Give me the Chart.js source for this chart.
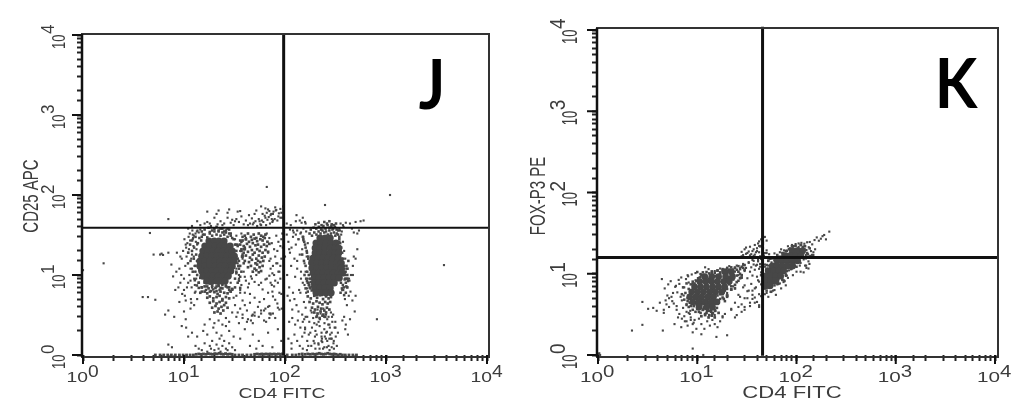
<!DOCTYPE html>
<html>
<head>
<meta charset="utf-8">
<style>
    html, body { margin: 0; padding: 0; background: #fff; width: 1024px; height: 412px; overflow: hidden; }
    canvas { position: absolute; top: 0; filter: blur(0.5px); }
    #panelJ { left: 0; }
    #panelK { left: 512px; }
</style>
</head>
<body>
<canvas id="panelJ" width="512" height="412"></canvas>
<canvas id="panelK" width="512" height="412"></canvas>
<script src="https://cdn.jsdelivr.net/npm/chart.js@4"></script>
<script>
const decades = [1, 10, 100, 1000, 10000];
const exponents = ['0', '1', '2', '3', '4'];

// quadrant gates
const gateJ = { x: 97, y: 39 };
const gateK = { x: 45.5, y: 15.8 };

// --- panel J, solid clumps
const coreAJx = [17.7,19.9,22.2,24.9, 16.1,18.1,20.3,22.8,25.5,28.6, 15.4,17.3,19.4,21.8,24.4,27.4,30, 15,16.8,18.9,21.2,23.8,26.7,29.9,31.5, 14.4,16.1,18.1,20.3,22.8,25.5,28.6,31.3, 14.4,16.1,18.1,20.3,22.8,25.5,28.6,30, 15,16.8,18.9,21.2,23.8,26.7,29, 15.4,17.3,19.4,21.8,24.4,27.4, 16.8,18.9,21.2,23.8,25.5];
const coreAJy = [26.6,26.6,26.6,26.6, 23,23,23,23,23,23, 19.9,19.9,19.9,19.9,19.9,19.9,19.9, 17.2,17.2,17.2,17.2,17.2,17.2,17.2,17.2, 14.9,14.9,14.9,14.9,14.9,14.9,14.9,14.9, 12.9,12.9,12.9,12.9,12.9,12.9,12.9,12.9, 11.2,11.2,11.2,11.2,11.2,11.2,11.2, 9.7,9.7,9.7,9.7,9.7,9.7, 8.4,8.4,8.4,8.4,8.4];
const coreCJx = [222,249,280, 203,228,255,286,320, 199,223,249,280,313,340, 199,223,249,280,313,340, 190,213,238,267,300,336, 185,207,232,260,292,327,360, 185,207,232,260,292,327,360, 190,213,238,267,300,336,370, 195,218,244,274,307,344, 195,218,244,274,307, 199,223,249,280, 203,228,255,286];
const coreCJy = [29,29,29, 25.1,25.1,25.1,25.1,25.1, 21.7,21.7,21.7,21.7,21.7,21.7, 18.8,18.8,18.8,18.8,18.8,18.8, 16.3,16.3,16.3,16.3,16.3,16.3, 14.1,14.1,14.1,14.1,14.1,14.1,14.1, 12.2,12.2,12.2,12.2,12.2,12.2,12.2, 10.6,10.6,10.6,10.6,10.6,10.6,10.6, 9.2,9.2,9.2,9.2,9.2,9.2, 7.96,7.96,7.96,7.96,7.96, 6.9,6.9,6.9,6.9, 6,6,6,6];

// --- panel J, speckled patches
const patchBJx = [40,43,46,49,52,55,58,61,64,38,41,44,47,50,53,57,60,63,67,36,39,42,45,48,51,54,58,62,66,70,37,40,43,47,50,53,56,60,64,68,38,41,45,48,52,55,59,63,40,44,47,51,54,57,61,43,46,50,53,56,60,48,52,55,58];
const patchBJy = [31,33,30,32,29,33,31,30,32,27,28,26,27.5,28.5,26.5,28,27,29,26,24,23,24.5,22.5,25,23.5,24,22.5,24,23,24.5,20,21,19.5,20.5,19,21,20,19,20.5,19.5,17,17.5,16.5,18,16,17.5,16.5,17,15,14.5,15.5,14,15,14.5,15,12.5,13,12,13.5,12.5,13,11,11.5,10.8,11.2];
const tailJx = [15,16,17.5,19,20.5,22,24,26,28,30,14.5,16,17,18.5,20,21.5,23,25,27,29,17,18,19.5,21,22.5,24,26,28,18,19.5,21,22.5,24,26,19,20.5,22,23.5,25,27,20,21.5,23,24.5];
const tailJy = [7,7.2,6.8,7.4,6.9,7.3,6.8,7.2,7,6.7,6,6.2,5.9,6.3,6.1,5.8,6.2,6,5.9,6.2,5.2,5.4,5.1,5.3,5.5,5,5.3,5.1,4.5,4.7,4.4,4.6,4.8,4.5,3.9,4.1,3.8,4,4.2,3.9,3.4,3.5,3.3,3.6];
const tailCJx = [168,180,195,208,222,238,255,270,285,175,190,205,220,235,250,265,280,185,198,212,228,245,260,275,195,210,225,240,255,205,220,235,250];
const tailCJy = [5.4,5.1,5.5,5.2,5.6,5,5.4,5.1,5.3,4.6,4.4,4.7,4.5,4.3,4.6,4.4,4.6,3.9,3.7,4,3.8,3.6,3.9,3.7,3.4,3.3,3.5,3.2,3.4,3,2.9,3.1,3];
const fringeAJx = [11.5,12,12.5,13,13.5,14,14.5,12,12.6,13.2,13.8,14.2,11,11.6,12.2,12.8,13.4,14,13,13.6,14.2,14.8,15.4, 15,16,17,18,19,20,21,22,23,24,25,26,27,28,29,30,31,16,17.5,19,21,23,25,27,29,15,18,20,22,24,26,28, 32,33,34,35,36,37,38,39,40,33,34.5,36,37.5,39,33,35,37,39,41,32,34,36,38,31,33,35,37,30,32,34,36,14,15,16,17,18,19,20,21,22,23,24,25,26,27,28,29,30, 15,16.5,18,19.5,21,22.5,24,26,28];
const fringeAJy = [24,20,16,13,10,8,9.2,27,22,18,14.5,11.5,19,15,11,8.6,7.4,6.9,30,25,29,27,32, 30,32,29.5,33,31,35,32,36,31,34,32,36,30,33,31,29,28, 37,39,36,40,38,35,38,33,35,34.5,37.5,35,38,34,37, 24,20,16,12,9.5,26,18,14,22, 10.5,13,27,17,21,24,15,11,19,28,9,23,13,30,17,11,8.5,21,13,7,8,6.9,8,7,8,7.2,7.8,7,8.1,7.2,7.7,6.9,7.5,8.2,7.4,7, 6.5,6.3,6.6,6.2,6.5,6.2,6.6,6.3,6.5];
const fringeCJx = [150,155,160,165,170,175,180,152,158,164,170,176,182,148,154,160,166,172,178,156,162,168,174,180,186,165,172,179,186,160,168,176,184, 175,185,195,205,215,225,235,245,255,265,275,285,295,305,315,325,335,345,180,192,204,216,228,240,252,264,276,288,300,312,324,336,200,215,230,245,260,275,290,305,320, 345,352,360,368,376,384,392,400,408,416,424,350,358,366,374,382,390,398,406,414,345,355,365,375,385,395,405,420,355,370,385,400,415];
const fringeCJy = [30,26,22,19,16,14,12,28,24,20,17,15,13,18,15,13,11,10,9,10,9,8,7.5,8.2,9,8.4,7.5,6.8,7.2,6.8,6.2,7,6.4, 33,31,34,32,35,33,36,34,35,32,36,33,37,34,31,33,32,30,37,39,38,40,37,41,38,42,39,41,38,40,37,36,43,45,42,46,44,47,43,42,44, 28,25,22,19,16,13,10,8,9,12,15,9,8,6.8,7.5,7,8.8,11,13,10,26,20,16,14,12,9,7.2,8.4,6,6.5,5.6,6,7,5.5];

// --- panel J, scattered events
const bottomJx = [5.2,5.8,6.3,6.9,7.5,8.2,9,9.8,10.6,11.5,12.4,13.2,14,14.8,15.6,16.5,17.4,18.3,19.2,20.2,21.2,22.3,23.4,24.6,25.8,27,28.5,30,32,35,38,42,46,50,53,56,59,62,65,68,71,74,78,82,86,90,94,105,118,128,138,148,158,168,178,188,198,208,218,228,240,252,265,278,292,306,320,335,352,370,395,430,470,510];
const bottomJy = [1,1,1,1,1,1,1,1,1,1,1,1.02,1.03,1.02,1.03,1.02,1.04,1.03,1.02,1.04,1.03,1.05,1.03,1.02,1.04,1.02,1.03,1.02,1,1,1,1,1,1.02,1.03,1.02,1.03,1.02,1.03,1.02,1.03,1.02,1.03,1.02,1.03,1.02,1.03,1,1,1,1.02,1.03,1.02,1.03,1.02,1.03,1.02,1.03,1.05,1.03,1.02,1.03,1.05,1.03,1.02,1.03,1.02,1,1.02,1,1,1,1,1];
const lowJx = [7,7.6,13,14,15,16,17,18,18.5,19,20,21,22,22.5,23,24,25,26,27,28,30,32,12,13.5,15.5,17,19.5,21,23.5,26,28,31,36,40,45,48,52,55,60,68,75,85,92,20,22,24,26,28,16,18,11,10.5,9.5,35,33,38,43,30,47,58,65,72,80,88,70,64];
const lowJy = [1.35,1.25,1.3,1.2,1.15,1.4,1.1,1.3,1.2,1.5,1.15,1.35,1.2,1.6,1.1,1.3,1.5,1.2,1.15,1.4,1.25,1.15,1.9,1.7,2,1.8,2.2,1.9,1.75,2.3,2,1.7,1.6,2.1,1.3,1.8,1.2,1.5,1.3,1.9,1.25,2.1,1.5,2.5,2.7,2.4,2.9,2.6,2.4,2.8,1.7,2.2,2.3,2.5,3,3.2,2.8,3.4,3.1,3.6,2.6,3.3,2.9,3.7,4.1,3.8];
const haloLeftJx = [8.5,9,9.5,10,10.5,11,11.5,12,12.5,13,13.5,14,9.2,9.8,10.3,10.8,11.3,11.8,12.3,12.8,13.3,10,10.6,11.1,11.6,12.1,12.6,13.1,10.2,10.9,11.4,11.9,12.4,12.9,13.4,10.4,11,11.6,12.2,12.8,13.4,9.4,10.1,10.7,11.2,11.7,12.2,12.7,13.2,13.8,8.8,9.6,10.4,11,11.8,12.5,13,13.6,11,11.6,12,12.6,13,13.5,14,14.5,6.5,7,7.8,8,8.4,9,10,10.4,7.5,8.2,9.2,6.2,5.8];
const haloLeftJy = [19,12,16,9,22,14,27,18,31,11,24,34,8,20,13,25,10,16,29,7.5,21,6.5,17,30,12,36,9,26,5.5,14,33,7,23,11,35,4.8,19,8.5,28,6,15,10,28,7,21,5,32,13,9,25,7,5.8,24,38,4.5,17,6.2,36,8,3.8,12,4.2,33,5,15,37,3.2,3.6,9.6,3,11,4.6,3.5,2.8,13.5,6.5,17,17.8,18];
const haloMidJx = [32,34,36,38,33,35,37,30,31,29,34,36,39,41,43,33,35,38,40,44,47,50,32,36,40,45,50,55,60,66,72,34,38,42,48,54,62,68,75,33,37,41,46,52,58,64,70,78,85,45,50,56,62,70,76,84,92,66,70,74,78,82,86,90,94,68,72,76,80,84,88,92,72,78,84,90,70,74,80,86,92,68,75,82,90,95,88,80,72,93,85,76,70,62,55,50,46,40,36,42,48,58];
const haloMidJy = [28,24,20,16,12,9,7.5,6.5,5.2,8,14,6.5,11,8.5,7,5.5,10,4.8,9.5,7.8,9,8.2,4.2,3.8,6,4.5,5.2,7.5,6.6,9,8,3.4,2.9,3.6,3.2,4,5,4,6.2,31,33,29,9.6,10,8,8.8,9.8,7.2,8,5.8,3.4,4.6,3.6,3.3,5.4,4.4,5.8,33,29,25,21,31,26,23,33,19,16,13,17,14,11,28,12,10,20,9,15,7.5,8.5,11,16,6,10.5,14,13,22,6,4.9,3.2,3.8,3.9,3.3,2.9,2.7,3,3.1,2.7,4.2,6,2.6,2.5,3.3];
const aboveJx = [12,13.5,14.5,16,17,18.5,20,21.5,23,25,27,29,31,33,35,37,39,41,43,45,47,49,51,53,55,57,59,61,63,65,67,69,71,73,75,77,79,81,84,87,90,93,96,18,21,24,27,30,34,44,48,52,56,60,64,68,72,76,80,86,92,17,22,28,36,32,50,58,66,74,82,90,58,64,70,76];
const aboveJy = [41,47,42,44,46,41,52,43,47,44,52,45,42,50,46,54,43,48,42,44,51,45,47,41,50,43,48,46,55,42,49,53,44,58,46,62,50,64,48,59,67,52,72,44,58,42,60,49,62,56,43,64,47,58,52,66,56,48,70,54,60,62,64,66,63,47,58,42,60,50,65,52,72,68,63,58];
const haloRightJx = [104,108,112,116,120,124,128,132,136,140,144,148,152,156,160,164,168,172,105,110,115,120,126,132,138,144,150,156,162,168,106,112,118,124,130,136,142,148,154,160,166,110,118,126,134,142,150,158,166,108,116,124,132,140,148,156,112,122,132,142,152,162,104,114,128,146,160,130,140,150,158,120,128,136,144,152,110,100,116];
const haloRightJy = [32,26,19,22,30,16,24,12,28,18,9,21,27,14,11,17,25,8,10,7,13,6,9.5,15,6.5,11,8,7.5,6,9,5.5,4.8,3.7,5,4.2,3.5,6,3.2,4.6,3.9,6.8,2.6,2.9,2.4,2.7,2.2,2.6,2.2,3,1.6,1.4,1.8,1.5,1.3,1.7,1.9,37,34,36,33,38,35,44,42,47,45,44,56,48,52,46,36,32,28,34,30,21,17,1.2];
const haloColJx = [150,158,166,174,182,190,198,206,214,222,230,238,246,254,262,270,278,286,294,302,310,318,326,334,160,172,184,196,208,220,232,244,256,268,280,292,304,316,155,170,185,200,215,230,245,260,275,290,305,165,178,192,206,220,234,248,262,276,290,200,215,230,245,260,275,290,180,195,210,225,240,255,270,285,300,315];
const haloColJy = [1.2,2.1,1.5,2.6,1.3,2.9,1.7,2.4,1.4,2.8,1.9,1.2,2.5,1.6,2.8,1.3,2.2,1.6,2.6,1.4,2.2,1.7,1.3,1.9,3,1.8,3.4,1.4,3.1,2.3,1.6,3,1.9,2.4,1.8,3,1.5,2.2,2.8,1.3,2.2,1.2,2.6,1.5,2.1,1.25,2.4,1.9,1.2,1.15,1.9,1.5,1.8,1.2,1.45,1.7,1.5,1.15,1.6,2,1.35,1.7,1.25,1.95,1.6,1.25,3.6,2.5,3.7,3.3,3.8,3.2,3,3.4,3.2,2.6];
const haloFarJx = [360,375,385,395,405,420,435,450,470,480,500,520,360,378,392,410,428,445,465,490,540,430,470,410,385,440,400,370,395,420,350,365,355,375,345,380,400,460,480,440,500,520,560,600,1,1.6,66,1096,3750,813,4.6,7,249,3.9,4.4,5.2,5,6,7,500];
const haloFarJy = [32,26,20,16,12,9,8.5,10,13,17,16,21,9,6.5,5,7,5.5,6.2,4.8,3.5,36,9,10,4.2,3,2.8,2.4,2.7,2.1,1.8,36,35,44,42,38,40,45,38,34,44,46,33,47,48,11.5,14,126,100,13.3,2.8,33.5,50,75,5.3,5.3,4.9,18,18.5,19,5.5];

// --- panel K, solid clumps
const coreUpKx = [91,102,115, 78,87,98,110, 64,72,81,91,102, 57,64,72,81,91, 52,59,66,74, 49,55,62,69, 49,55,62, 49,54];
const coreUpKy = [19.2,19.2,19.2, 16.7,16.7,16.7,16.7, 14.5,14.5,14.5,14.5,14.5, 12.5,12.5,12.5,12.5,12.5, 10.9,10.9,10.9,10.9, 9.4,9.4,9.4,9.4, 8.2,8.2,8.2, 7.1,7.1];
const coreLowKx = [19,22, 11.9,14,16.4,19.3,22.6, 10.6,12.2,14,16,18.5,21, 9.4,10.8,12.4,14.3,16.4,18.9, 8.8,10.1,11.6,13.4,15.3,17.7, 8.4,9.7,11.1,12.8,14.6, 9,10.4,12,13.8,15.8, 10.4,12.4,14.2];
const coreLowKy = [10.6,10.6, 9.2,9.2,9.2,9.2,9.2, 8,8,8,8,8,8, 6.9,6.9,6.9,6.9,6.9,6.9, 6,6,6,6,6,6, 5.2,5.2,5.2,5.2,5.2, 4.5,4.5,4.5,4.5,4.5, 3.9,3.9,3.9];

// --- panel K, speckled patches
const patchKx = [8.8,9.6,10.4,11.2,12,13,14,15,16,9.2,10,11,11.8,12.8,13.8,14.8,10.4,11.4,12.4,13.2,14.2,15.2,16.4,11,12,13,14,15,17,18.5,20,22,24,21,23,25,27,26,28,30];
const patchKy = [4.7,4.4,4.8,4.3,4.7,4.4,4.8,4.4,4.6,4,3.7,4.1,3.8,4,3.6,3.9,3.4,3.6,3.3,3.5,3.2,3.5,3.3,3,3.1,2.9,3.05,2.9,5.6,4.9,5.4,6.4,7.3,8.6,9.8,7.9,8.8,10.6,9.6,11.2];
const fringeLowKx = [7.2,7.6,8,8.4,7.8,8.2,7,7.4,7.8,8.2,8.6,9,9.4,9.8,10.2,10.6,11,11.4,10,10.8,11.6,12.4,13.2,14,15,16,17,18,19,20,21,22,23,24,25,26,27,28,29,30,12,13,14,15,16,17,18,19,20,21,22,23,24,25,26,27,28,19,20,21,22,23,24,17,18,19,20,21,22,16,17,18,19,20,8,8.6,9.2,9.8,10.4,11,11.6,12.2,12.8,13.4,14,14.6,15.2,15.8,16.4,9,9.6,10.2,10.8,11.4,12,12.6,13.2,13.8,14.4,15];
const fringeLowKy = [6.8,5.8,5,4.4,7.6,6.5,5.6,4.8,4.2,3.9,7.4,8,7.6,8.2,8.8,9,9.6,10.4,10.5,9.9,9.6,10.5,10.1,10.7,10.3,11,10.4,11.4,10.6,11.6,11.2,12,10.9,11.8,11.2,12.4,11.4,12.2,11.8,12.8,9.6,8.7,10.2,9.4,10.9,9.9,11,9.5,10,9,11,8.5,11.9,9.5,8.2,10,9,7.6,6.5,8.2,7,8.6,6.6,5.9,5.1,6.2,5.4,7.4,6.4,5.4,4.9,5.6,4.6,5.2,4.6,4,4.9,4.2,3.9,4.5,3.8,4.3,3.7,4.1,4.6,3.9,4.3,3.8,4.7,3.6,3.4,3.7,3.3,3.6,3.2,3.5,3.1,3.4,3.3,3.6,3.4];
const fringeUpKx = [44,47,50,52,56,60,65,70,76,82,88,94,100,108,116,124,130,138,144,50,55,60,65,72,80,88,96,104,112,120,128,136,74,80,86,92,98,104,110,116,122,60,64,68,72,78,84,90,48,50,54,58,62,66,70,74,78];
const fringeUpKy = [9.6,8.3,12.8,14.4,15.4,13.2,15.5,13.8,15.5,14.8,15.2,13,12.2,14.5,17.8,15.5,17.3,16.5,17,6.2,6,7.2,7.5,8.4,10.8,11.4,12.5,14.3,16,20,18,20.5,17.8,19.2,17.8,20.5,22,20.5,22.6,21.2,21.8,15,17,16.2,18,19,20,21.8,6.6,11.5,9.6,7.7,9.2,10,9.2,10.4,9.8];

// --- panel K, scattered events
const dotsLowKx = [2.2,2.8,2.8,3.2,4.5,9,11.5,15.6,20,9,11,3.6,3.9,4.2,4.6,4.8,5,5.2,5.5,5.8,6,6.3,6.6,7,7.4,7.8,8.2,4.4,4.7,5.1,5.4,5.7,6.1,6.5,6.9,7.3,7.7,8.1,8.5,6.2,6.6,7,7.4,7.8,8.2,8.6,9,9.4,5.9,6.4,6.9,7.5,8,8.6,9.2,9.8,10.4,11,11.8,12.6,13.4,14.2,15,16,17,18,7.2,7.8,8.4,9,9.6,10.2,10.8,8,8.8,9.6,5.6,5.2,4.9,4.6,6.2,6.8,1,1.02,1.05,1.03];
const dotsLowKy = [2,2.35,4.5,3.7,2,1.2,1,1.67,1.75,1.9,1.8,3.8,3.5,4.4,3.6,4.7,5.4,3.9,5.2,4.3,6.9,5.9,7.5,4.7,6.8,4.1,7.8,8.6,6.6,7.4,8.1,5.8,7.1,8.4,9,5.4,8.6,9.3,3.5,3.6,3.2,2.8,3,2.6,3.3,2.9,2.4,2.7,2.4,2.9,2.2,2.6,2.3,2.7,2.5,2.1,2.8,2.4,2.1,2.6,2.3,2.7,2.4,2.2,2.6,3,3.8,3.4,3.2,7.6,8.3,8.6,9.1,9.6,9.8,10.2,4.6,5,4.2,3.3,4,5.2,1,1.03,1,1.05];
const dotsMidKx = [15,17,19,21,23,25,27,29,31,33,35,37,39,41,43,16,18,20,22,24,26,28,30,32,34,36,38,40,42,44,14,18,24,30,36,42,20,23,26,29,32,35,38,41,44,27,30,33,36,39,42,24,28,32,36,40,44,30,34,38,42,22,26,30,34,38,42,46,29,33,37,41,45,19,22,25,28,18,24,15,13,12,27,36,43,40,44];
const dotsMidKy = [10.8,11.6,10.2,12.4,11.3,12.6,11.7,13.2,11.8,13.9,12,14.4,12.6,14.2,13.2,9.6,10.4,11.9,9.8,10.6,9.6,8.9,10.8,8.8,10.6,9.5,11.2,9.2,11.5,10.4,7.4,6.5,6.6,7.2,6.2,8,5.8,7,5.5,6.8,6.1,7.5,6.6,8.3,7.4,5.2,5,6.2,5.5,6.8,5.6,4.4,4.2,5,4.9,4.5,5.3,3.9,4.4,5.1,4.1,3.7,3.9,3.6,4,4.4,3.9,5.9,12.8,13.6,13,14.8,14.6,3.2,3.6,3.1,3.4,2.9,2.9,3.1,11.4,12,8.9,14.8,12.2,12.9,15.2];
const dotsTopKx = [28,30,32,34,36,38,40,42,44,29,31,33,35,37,39,41,43,46,34,37,40,43,46,48,42,44,46,48,50,38,42,46,50,28,31,34];
const dotsTopKy = [18.6,20,18,21.5,19,17.2,20.6,18.4,22,17,21,18.8,17.4,20,18.4,23.6,21.6,20.8,16.8,16.6,19,16.4,24.4,18,25,26.5,27.4,28.4,25.6,22.6,22,23.4,19.4,16.4,17.6,16.6];
const dotsUpKx = [47,50,53,56,60,64,68,72,47,50,54,58,62,66,70,74,78,46,48,52,56,60,64,68,72,76,80,48,52,54,60,66,72,78,86,94,70,75,82,90,98,105,112,120,128,136,144,152,160,168,176,183,190,198,214,105,112,120,126,133,140,148,154,118,124,132,140,125,135,148,66,60,56,52,50,48,90,84,78,72,66,62,58,100,110,122,132,110,118,126,75,82,92,100,108];
const dotsUpKy = [16.8,18,17.4,15.6,17.8,16.5,18.4,17,6.6,5.8,6.9,6.2,5.5,7.5,6.6,7.9,7.2,6.4,5.6,5.2,6,6.3,7.4,7.6,8.6,8.1,9.5,13,14.6,15.2,16,15.8,16.4,16.6,20.6,22,20,19.4,21.8,22.6,23.2,23.6,24,23.4,24.4,24.6,23,26,28,25.5,27,29,30,26.5,33,21.4,22.4,22,19.6,21.2,19,18.4,20,15,17,14.2,16.4,12.6,13.2,17,12.8,14.5,13.8,12.6,11.4,12.2,11.6,11,9.4,9.1,8.6,8,7.8,14,13.6,12.6,11.6,10.6,10.4,11.8,8.3,8.9,9.6,10.6,12.6];

function zip(xs, ys) {
    return xs.map((x, i) => ({ x: x, y: ys[i] })).filter(p => p.y !== undefined);
}

function dots(points, radius, style) {
    return {
        data: points,
        backgroundColor: '#474747',
        borderWidth: 0,
        pointRadius: radius,
        pointStyle: style,
        clip: false
    };
}

function gateLine(points, width) {
    return {
        data: points,
        showLine: true,
        borderColor: '#111',
        borderWidth: width,
        pointRadius: 0,
        clip: false
    };
}

// the scanned figure is stretched sideways, so each label gets its own stretch
function putText(ctx, text, x, y, size, vertical, align, stretch) {
    ctx.save();
    ctx.translate(x, y);
    ctx.scale(stretch, 1);
    if (vertical) ctx.rotate(-Math.PI / 2);
    ctx.font = size + 'px "Liberation Sans"';
    ctx.textAlign = align;
    ctx.textBaseline = 'alphabetic';
    ctx.fillStyle = '#3c3c3c';
    ctx.fillText(text, 0, 0);
    ctx.restore();
}

function framePlugin(cfg) {
    return {
        id: 'frame' + cfg.letter,
        afterDraw(chart) {
            const ctx = chart.ctx;
            const area = chart.chartArea;
            const xs = chart.scales.x;
            const ys = chart.scales.y;
            const frameLeft = area.left - 1;
            const frameTop = area.top - cfg.frameTop;
            const frameRight = area.right + cfg.frameRight;
            const frameBottom = area.bottom + 2;

            // frame sits just outside the decade range
            ctx.strokeStyle = '#333';
            ctx.lineWidth = 2;
            ctx.strokeRect(frameLeft, frameTop, frameRight - frameLeft, frameBottom - frameTop);
            ctx.strokeStyle = '#111';
            ctx.lineWidth = 2.5;
            ctx.beginPath();
            ctx.moveTo(frameLeft, frameTop);
            ctx.lineTo(frameLeft, frameBottom);
            ctx.stroke();

            // long ticks at each decade
            ctx.lineWidth = 2;
            ctx.beginPath();
            decades.forEach(d => {
                ctx.moveTo(xs.getPixelForValue(d), area.bottom);
                ctx.lineTo(xs.getPixelForValue(d), area.bottom + 9);
                ctx.moveTo(area.left, ys.getPixelForValue(d));
                ctx.lineTo(area.left - 11, ys.getPixelForValue(d));
            });
            ctx.stroke();

            decades.forEach((d, i) => {
                const px = xs.getPixelForValue(d) + 5;
                putText(ctx, '10', px, 382, cfg.tickSize, false, 'right', 1.38);
                putText(ctx, exponents[i], px, 377, cfg.expSize, false, 'left', 1.2);
                const py = ys.getPixelForValue(d);
                putText(ctx, '10', cfg.tickBase, py + 14, 13, true, 'left', cfg.tickStretch);
                putText(ctx, exponents[i], cfg.expBase, py - 1, cfg.expSizeY, true, 'left', cfg.expStretchY);
            });

            putText(ctx, cfg.xTitle, cfg.xTitleAt, 398, cfg.xTitleSize, false, 'center', 1.38);
            putText(ctx, cfg.yTitle, cfg.yTitleBase, 196, cfg.yTitleSize, true, 'center', 1.5);

            ctx.save();
            ctx.translate(cfg.letterX, cfg.letterY);
            ctx.scale(0.9, 1);
            ctx.font = 'bold 69px Lato';
            ctx.textAlign = 'center';
            ctx.fillStyle = '#000';
            ctx.fillText(cfg.letter, 0, 0);
            ctx.restore();
        }
    };
}

function logAxis(length, fixed) {
    return {
        type: 'logarithmic',
        min: 1,
        max: 10000,
        border: { display: false },
        grid: { drawOnChartArea: false, tickLength: length, tickWidth: 2, tickColor: '#222' },
        ticks: { autoSkip: false, maxRotation: 0, callback: () => '' },
        afterFit: fixed
    };
}

function drawPanel(id, datasets, cfg) {
    new Chart(document.getElementById(id), {
        type: 'scatter',
        data: { datasets: datasets },
        options: {
            responsive: false,
            animation: false,
            layout: { padding: { left: 0, top: cfg.top, right: cfg.right, bottom: 0 } },
            plugins: { legend: { display: false }, tooltip: { enabled: false } },
            scales: {
                x: logAxis(6, s => { s.height = 412 - cfg.bottom; }),
                y: logAxis(6, s => { s.width = cfg.left; })
            }
        },
        plugins: [framePlugin(cfg)]
    });
}

drawPanel('panelJ', [
    gateLine([{ x: 1, y: gateJ.y }, { x: 10500, y: gateJ.y }], 2),
    gateLine([{ x: gateJ.x, y: 0.98 }, { x: gateJ.x, y: 10500 }], 3),
    dots(zip(coreAJx, coreAJy), 3.6, 'circle'),
    dots(zip(coreCJx, coreCJy), 3.6, 'circle'),
    dots(zip(patchBJx, patchBJy), 1.9, 'rect'),
    dots(zip(tailJx, tailJy), 1.9, 'rect'),
    dots(zip(tailCJx, tailCJy), 1.9, 'rect'),
    dots(zip(fringeAJx, fringeAJy), 1.8, 'rect'),
    dots(zip(fringeCJx, fringeCJy), 1.8, 'rect'),
    dots(zip(bottomJx, bottomJy), 2, 'rect'),
    dots(zip(lowJx, lowJy), 1.5, 'rect'),
    dots(zip(haloLeftJx, haloLeftJy), 1.5, 'rect'),
    dots(zip(haloMidJx, haloMidJy), 1.5, 'rect'),
    dots(zip(aboveJx, aboveJy), 1.5, 'rect'),
    dots(zip(haloRightJx, haloRightJy), 1.5, 'rect'),
    dots(zip(haloColJx, haloColJy), 1.5, 'rect'),
    dots(zip(haloFarJx, haloFarJy), 1.5, 'rect')
], {
    letter: 'J', letterX: 432, letterY: 109,
    left: 83, right: 25, top: 35, bottom: 355,
    frameTop: 1, frameRight: 2,
    tickSize: 14, expSize: 16, tickBase: 65, tickStretch: 1.45,
    expBase: 54, expSizeY: 17, expStretchY: 1.1,
    xTitle: 'CD4 FITC', xTitleAt: 282, xTitleSize: 14,
    yTitle: 'CD25 APC', yTitleBase: 38, yTitleSize: 15
});

drawPanel('panelK', [
    gateLine([{ x: 1, y: gateK.y }, { x: 10500, y: gateK.y }], 3),
    gateLine([{ x: gateK.x, y: 0.98 }, { x: gateK.x, y: 11000 }], 3),
    dots(zip(coreUpKx, coreUpKy), 3.5, 'circle'),
    dots(zip(coreLowKx, coreLowKy), 3.4, 'circle'),
    dots(zip(patchKx, patchKy), 1.9, 'rect'),
    dots(zip(fringeLowKx, fringeLowKy), 1.8, 'rect'),
    dots(zip(fringeUpKx, fringeUpKy), 1.8, 'rect'),
    dots(zip(dotsLowKx, dotsLowKy), 1.5, 'rect'),
    dots(zip(dotsMidKx, dotsMidKy), 1.5, 'rect'),
    dots(zip(dotsTopKx, dotsTopKy), 1.5, 'rect'),
    dots(zip(dotsUpKx, dotsUpKy), 1.5, 'rect')
], {
    letter: 'K', letterX: 444, letterY: 108,
    left: 86, right: 29, top: 30, bottom: 355,
    frameTop: 2, frameRight: 3,
    tickSize: 15, expSize: 17, tickBase: 65, tickStretch: 1.75,
    expBase: 53, expSizeY: 19, expStretchY: 1.15,
    xTitle: 'CD4 FITC', xTitleAt: 280, xTitleSize: 16,
    yTitle: 'FOX-P3 PE', yTitleBase: 33, yTitleSize: 15
});
</script>
</body>
</html>
